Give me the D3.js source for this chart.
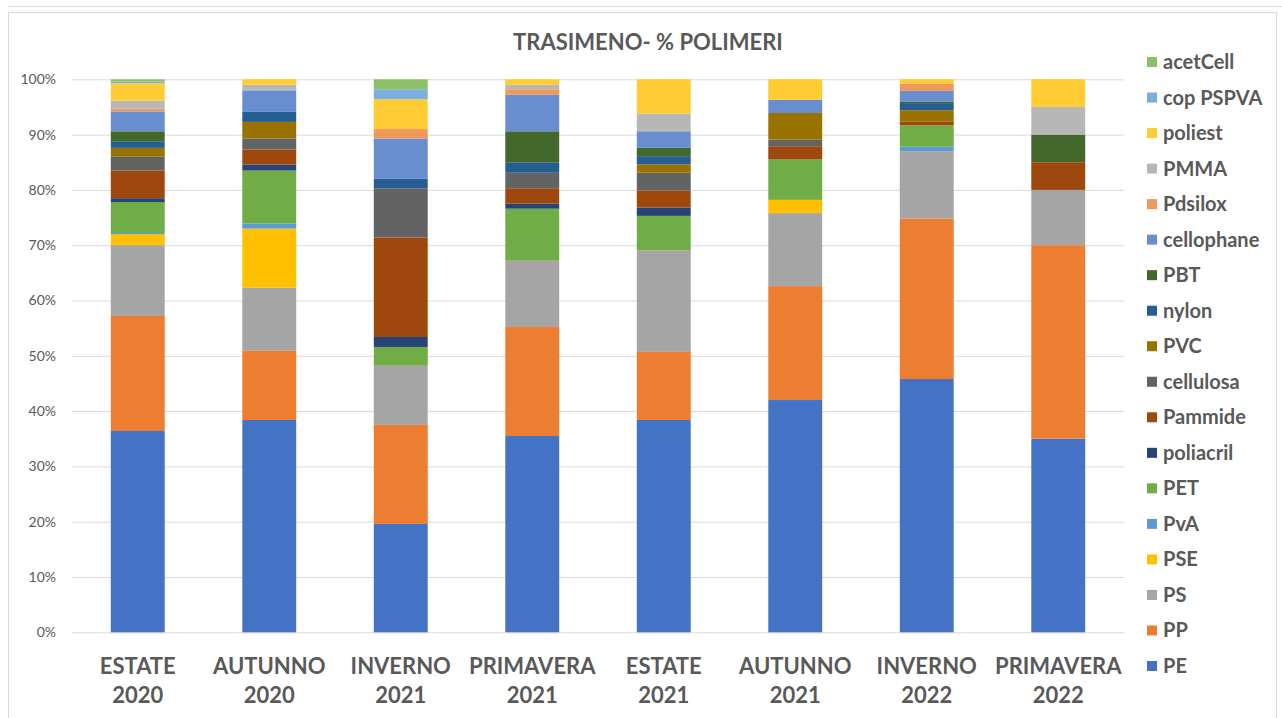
<!DOCTYPE html>
<html>
<head>
<meta charset="utf-8">
<script src="https://cdn.jsdelivr.net/npm/d3@7"></script>
<style>
  html, body { margin: 0; padding: 0; background: #fff; }
  svg { display: block; font-family: Lato, "Open Sans", sans-serif; }
</style>
</head>
<body>
<svg id="chart" width="1282" height="718"></svg>
<script>
// Sampling seasons (two-line labels)
const seasons = [
  ["ESTATE", "2020"], ["AUTUNNO", "2020"], ["INVERNO", "2021"], ["PRIMAVERA", "2021"],
  ["ESTATE", "2021"], ["AUTUNNO", "2021"], ["INVERNO", "2022"], ["PRIMAVERA", "2022"]
];

// Polymer series, bottom of the stack first (percent of particles per season)
const PE         = [36.4, 38.4, 19.6, 35.5, 38.4, 42.0, 45.8, 35.0];
const PP         = [20.8, 12.5, 17.9, 19.7, 12.3, 20.6, 29.0, 35.0];
const PS         = [12.8, 11.4, 10.7, 12.0, 18.4, 13.2, 12.2, 10.0];
const PSE        = [ 2.0, 10.7,  0.0,  0.0,  0.0,  2.4,  0.0,  0.0];
const PvA        = [ 0.2,  0.9,  0.0,  0.0,  0.0,  0.0,  0.8,  0.0];
const PET        = [ 5.6,  9.6,  3.4,  9.4,  6.2,  7.3,  3.9,  0.0];
const poliacril  = [ 0.7,  1.1,  1.8,  0.9,  1.5,  0.0,  0.0,  0.0];
const Pammide    = [ 5.0,  2.7, 18.0,  2.8,  3.1,  2.4,  0.7,  5.0];
const cellulosa  = [ 2.5,  2.0,  8.9,  2.8,  3.2,  1.2,  0.0,  0.0];
const PVC        = [ 1.6,  3.0,  0.0,  0.0,  1.5,  4.8,  2.0,  0.0];
const nylon      = [ 1.2,  1.8,  1.7,  1.9,  1.5,  0.0,  1.3,  0.0];
const PBT        = [ 1.8,  0.0,  0.0,  5.6,  1.5,  0.0,  0.3,  5.0];
const cellophane = [ 3.6,  3.9,  7.3,  6.6,  3.0,  2.4,  1.9,  0.0];
const Pdsilox    = [ 0.5,  0.0,  1.7,  1.0,  0.0,  0.0,  1.3,  0.0];
const PMMA       = [ 1.4,  1.0,  0.0,  0.8,  3.2,  0.0,  0.0,  5.0];
const poliest    = [ 3.2,  1.0,  5.4,  1.0,  6.2,  3.7,  0.8,  5.0];
const copPSPVA   = [ 0.3,  0.0,  1.8,  0.0,  0.0,  0.0,  0.0,  0.0];
const acetCell   = [ 0.4,  0.0,  1.8,  0.0,  0.0,  0.0,  0.0,  0.0];

const yTicks = [0, 10, 20, 30, 40, 50, 60, 70, 80, 90, 100];

const series = [
  { name: "PE",         values: PE,         color: "#4472c4" },
  { name: "PP",         values: PP,         color: "#ed7d31" },
  { name: "PS",         values: PS,         color: "#a5a5a5" },
  { name: "PSE",        values: PSE,        color: "#ffc000" },
  { name: "PvA",        values: PvA,        color: "#5b9bd5" },
  { name: "PET",        values: PET,        color: "#70ad47" },
  { name: "poliacril",  values: poliacril,  color: "#264478" },
  { name: "Pammide",    values: Pammide,    color: "#9e480e" },
  { name: "cellulosa",  values: cellulosa,  color: "#636363" },
  { name: "PVC",        values: PVC,        color: "#997300" },
  { name: "nylon",      values: nylon,      color: "#255e91" },
  { name: "PBT",        values: PBT,        color: "#43682b" },
  { name: "cellophane", values: cellophane, color: "#698ed0" },
  { name: "Pdsilox",    values: Pdsilox,    color: "#f1975a" },
  { name: "PMMA",       values: PMMA,       color: "#b7b7b7" },
  { name: "poliest",    values: poliest,    color: "#ffcd33" },
  { name: "cop PSPVA",  values: copPSPVA,   color: "#7cafdd" },
  { name: "acetCell",   values: acetCell,   color: "#8cc168" }
];

const svg = d3.select("#chart");
const W = 1282, H = 718;
const textColor = "#595959";

// frames
svg.append("line").attr("x1", 8).attr("x2", W).attr("y1", 6.5).attr("y2", 6.5)
  .attr("stroke", "#d9d9d9");
svg.append("rect").attr("x", 8.5).attr("y", 12.5).attr("width", W - 14).attr("height", H - 8)
  .attr("fill", "#fff").attr("stroke", "#d9d9d9");

const margin = { left: 72, right: 1124, top: 79.3, bottom: 632.3 };

const keys = series.map(s => s.name);
const rows = seasons.map((s, i) => {
  const r = { season: s.join(" ") };
  series.forEach(se => { r[se.name] = se.values[i]; });
  return r;
});

const x = d3.scaleBand()
  .domain(rows.map(r => r.season))
  .range([margin.left, margin.right])
  .paddingInner(0.59).paddingOuter(0.295);

const y = d3.scaleLinear().domain([0, 100]).range([margin.bottom, margin.top]);

// gridlines + y axis
const yAxis = d3.axisLeft(y).tickValues(yTicks).tickFormat(d => d + "%")
  .tickSize(-(margin.right - margin.left)).tickPadding(16);
const gy = svg.append("g").attr("transform", `translate(${margin.left},0)`).call(yAxis);
gy.select(".domain").remove();
gy.selectAll(".tick line").attr("stroke", "#d9d9d9").attr("stroke-width", 1);
gy.selectAll(".tick text").attr("fill", textColor).attr("font-size", 14)
  .attr("font-family", "Lato, sans-serif");

// stacked bars
const stack = d3.stack().keys(keys);
const layers = stack(rows);
svg.append("g").selectAll("g")
  .data(layers)
  .join("g")
  .attr("fill", (d, i) => series[i].color)
  .selectAll("rect")
  .data(d => d)
  .join("rect")
  .attr("x", d => x(d.data.season))
  .attr("width", x.bandwidth())
  .attr("y", d => y(d[1]))
  .attr("height", d => Math.max(0, y(d[0]) - y(d[1])));

// x axis labels (two lines)
const xAxis = d3.axisBottom(x).tickSize(0).tickFormat("");
const gx = svg.append("g").attr("transform", `translate(0,${margin.bottom})`).call(xAxis);
gx.select(".domain").remove();
gx.selectAll(".tick").each(function(d, i) {
  const t = d3.select(this).append("text")
    .attr("fill", textColor).attr("font-size", 22).attr("font-weight", 700)
    .attr("text-anchor", "middle").attr("font-family", "Lato, sans-serif");
  t.append("tspan").attr("x", 0).attr("y", 42).text(seasons[i][0]);
  t.append("tspan").attr("x", 0).attr("y", 71).text(seasons[i][1]);
});

// title
svg.append("text")
  .attr("x", 648).attr("y", 50)
  .attr("text-anchor", "middle")
  .attr("fill", textColor).attr("font-size", 22).attr("font-weight", 700)
  .text("TRASIMENO- % POLIMERI");

// legend, top entry is the top of the stack
const legendItems = series.slice().reverse();
const lg = svg.append("g");
const lgy = d3.scalePoint().domain(legendItems.map(s => s.name)).range([62, 666]);
legendItems.forEach(s => {
  const g = lg.append("g").attr("transform", `translate(1147,${lgy(s.name)})`);
  g.append("rect").attr("x", 0).attr("y", -5).attr("width", 10).attr("height", 10).attr("fill", s.color);
  g.append("text").attr("x", 16).attr("y", 7)
    .attr("fill", textColor).attr("font-size", 20).attr("font-weight", 700)
    .text(s.name);
});
</script>
</body>
</html>
